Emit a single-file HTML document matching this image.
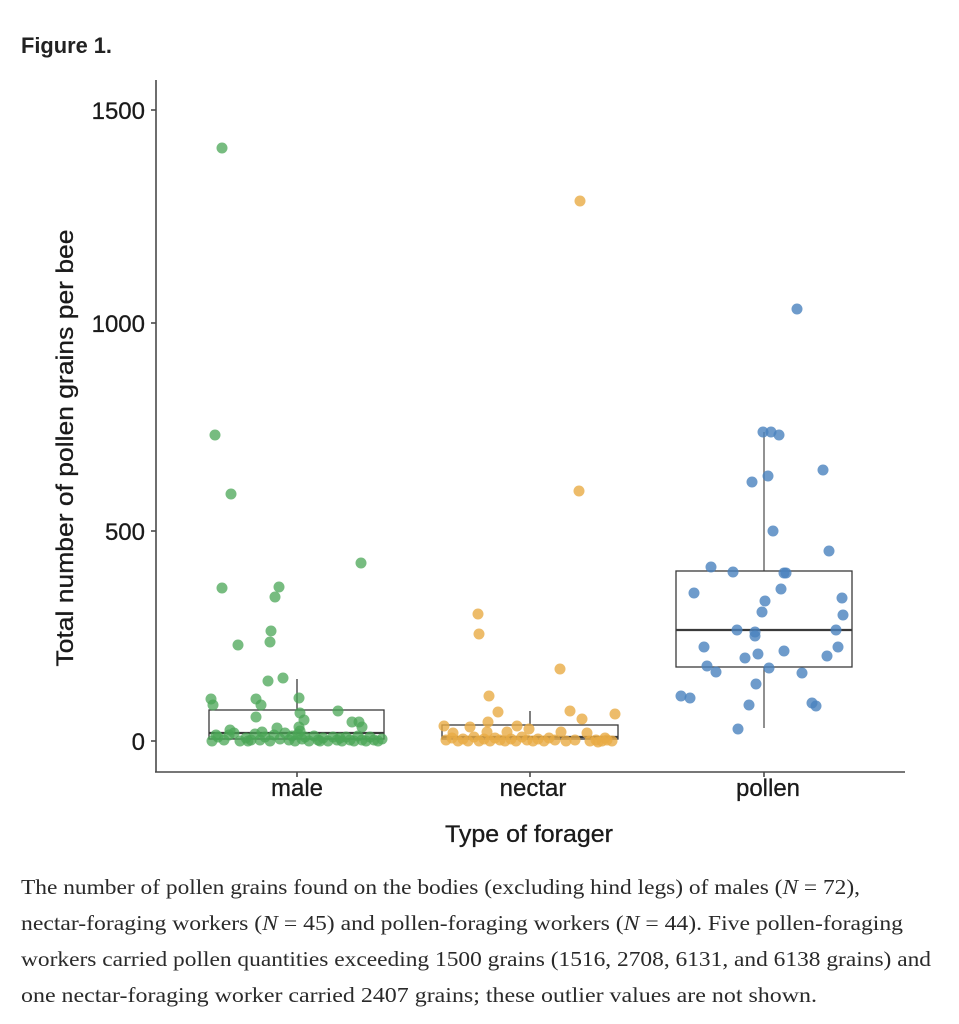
<!DOCTYPE html>
<html>
<head>
<meta charset="utf-8">
<style>
html,body{margin:0;padding:0;background:#fff;}
svg{display:block;}
</style>
</head>
<body>
<svg width="959" height="1024" viewBox="0 0 959 1024" xmlns="http://www.w3.org/2000/svg">
<rect width="959" height="1024" fill="#fff"/>
<text x="21" y="53" font-family="Liberation Sans, sans-serif" font-weight="bold" font-size="22" fill="#222" textLength="91" lengthAdjust="spacingAndGlyphs">Figure 1.</text>

<!-- boxes -->
<g stroke="#3a3a3a" stroke-width="1.3" fill="none">
  <line x1="297" y1="679" x2="297" y2="710"/>
  <rect x="209" y="710" width="175" height="29"/>
  <line x1="209" y1="733" x2="384" y2="733" stroke-width="2.2"/>
  <line x1="530" y1="711" x2="530" y2="725"/>
  <rect x="442" y="725" width="176" height="14"/>
  <line x1="442" y1="737" x2="618" y2="737" stroke-width="2.2"/>
  <line x1="764" y1="432" x2="764" y2="571" stroke="#777" stroke-width="1.6"/>
  <line x1="764" y1="667" x2="764" y2="728" stroke="#555"/>
  <rect x="676" y="571" width="176" height="96"/>
  <line x1="676" y1="630" x2="852" y2="630" stroke-width="2.2"/>
</g>

<!-- male points -->
<g fill="#4aa556" fill-opacity="0.75">
<circle cx="222" cy="148" r="5.5"/><circle cx="215" cy="435" r="5.5"/><circle cx="231" cy="494" r="5.5"/>
<circle cx="361" cy="563" r="5.5"/><circle cx="222" cy="588" r="5.5"/><circle cx="279" cy="587" r="5.5"/>
<circle cx="275" cy="597" r="5.5"/><circle cx="271" cy="631" r="5.5"/><circle cx="270" cy="642" r="5.5"/>
<circle cx="238" cy="645" r="5.5"/><circle cx="268" cy="681" r="5.5"/><circle cx="283" cy="678" r="5.5"/>
<circle cx="211" cy="699" r="5.5"/><circle cx="213" cy="705" r="5.5"/><circle cx="256" cy="699" r="5.5"/>
<circle cx="261" cy="705" r="5.5"/><circle cx="299" cy="698" r="5.5"/><circle cx="300" cy="713" r="5.5"/>
<circle cx="256" cy="717" r="5.5"/><circle cx="338" cy="711" r="5.5"/><circle cx="304" cy="720" r="5.5"/>
<circle cx="299" cy="727" r="5.5"/><circle cx="352" cy="722" r="5.5"/><circle cx="359" cy="722" r="5.5"/>
<circle cx="362" cy="727" r="5.5"/><circle cx="230" cy="730" r="5.5"/><circle cx="277" cy="728" r="5.5"/>
<circle cx="212" cy="741" r="5.5"/><circle cx="218" cy="737" r="5.5"/><circle cx="224" cy="740" r="5.5"/>
<circle cx="229" cy="735" r="5.5"/><circle cx="234" cy="733" r="5.5"/><circle cx="240" cy="741" r="5.5"/>
<circle cx="246" cy="738" r="5.5"/><circle cx="251" cy="740" r="5.5"/><circle cx="255" cy="734" r="5.5"/>
<circle cx="260" cy="740" r="5.5"/><circle cx="265" cy="737" r="5.5"/><circle cx="270" cy="741" r="5.5"/>
<circle cx="274" cy="735" r="5.5"/><circle cx="280" cy="739" r="5.5"/><circle cx="285" cy="733" r="5.5"/>
<circle cx="289" cy="740" r="5.5"/><circle cx="292" cy="736" r="5.5"/><circle cx="295" cy="741" r="5.5"/>
<circle cx="298" cy="734" r="5.5"/><circle cx="302" cy="739" r="5.5"/><circle cx="305" cy="737" r="5.5"/>
<circle cx="309" cy="741" r="5.5"/><circle cx="314" cy="736" r="5.5"/><circle cx="318" cy="740" r="5.5"/>
<circle cx="323" cy="738" r="5.5"/><circle cx="328" cy="741" r="5.5"/><circle cx="333" cy="737" r="5.5"/>
<circle cx="337" cy="740" r="5.5"/><circle cx="342" cy="741" r="5.5"/><circle cx="346" cy="737" r="5.5"/>
<circle cx="350" cy="740" r="5.5"/><circle cx="354" cy="741" r="5.5"/><circle cx="358" cy="736" r="5.5"/>
<circle cx="362" cy="740" r="5.5"/><circle cx="366" cy="741" r="5.5"/><circle cx="370" cy="737" r="5.5"/>
<circle cx="374" cy="740" r="5.5"/><circle cx="378" cy="741" r="5.5"/><circle cx="382" cy="739" r="5.5"/>
<circle cx="216" cy="735" r="5.5"/><circle cx="262" cy="732" r="5.5"/><circle cx="300" cy="731" r="5.5"/>
<circle cx="320" cy="741" r="5.5"/><circle cx="340" cy="738" r="5.5"/><circle cx="248" cy="741" r="5.5"/>
</g>

<!-- nectar points -->
<g fill="#e8ab45" fill-opacity="0.8">
<circle cx="580" cy="201" r="5.5"/><circle cx="579" cy="491" r="5.5"/><circle cx="478" cy="614" r="5.5"/>
<circle cx="479" cy="634" r="5.5"/><circle cx="560" cy="669" r="5.5"/><circle cx="489" cy="696" r="5.5"/>
<circle cx="498" cy="712" r="5.5"/><circle cx="570" cy="711" r="5.5"/><circle cx="582" cy="719" r="5.5"/>
<circle cx="615" cy="714" r="5.5"/><circle cx="488" cy="722" r="5.5"/><circle cx="444" cy="726" r="5.5"/>
<circle cx="470" cy="727" r="5.5"/><circle cx="517" cy="726" r="5.5"/><circle cx="529" cy="729" r="5.5"/>
<circle cx="453" cy="733" r="5.5"/><circle cx="561" cy="732" r="5.5"/><circle cx="587" cy="733" r="5.5"/>
<circle cx="507" cy="732" r="5.5"/><circle cx="487" cy="732" r="5.5"/>
<circle cx="446" cy="740" r="5.5"/><circle cx="452" cy="738" r="5.5"/><circle cx="458" cy="741" r="5.5"/>
<circle cx="463" cy="739" r="5.5"/><circle cx="468" cy="741" r="5.5"/><circle cx="474" cy="737" r="5.5"/>
<circle cx="479" cy="741" r="5.5"/><circle cx="484" cy="739" r="5.5"/><circle cx="490" cy="741" r="5.5"/>
<circle cx="495" cy="738" r="5.5"/><circle cx="500" cy="740" r="5.5"/><circle cx="505" cy="741" r="5.5"/>
<circle cx="511" cy="739" r="5.5"/><circle cx="516" cy="741" r="5.5"/><circle cx="522" cy="737" r="5.5"/>
<circle cx="527" cy="740" r="5.5"/><circle cx="533" cy="741" r="5.5"/><circle cx="538" cy="739" r="5.5"/>
<circle cx="544" cy="741" r="5.5"/><circle cx="549" cy="738" r="5.5"/><circle cx="555" cy="740" r="5.5"/>
<circle cx="566" cy="741" r="5.5"/><circle cx="575" cy="740" r="5.5"/><circle cx="590" cy="741" r="5.5"/>
<circle cx="596" cy="740" r="5.5"/><circle cx="602" cy="741" r="5.5"/><circle cx="607" cy="740" r="5.5"/>
<circle cx="612" cy="741" r="5.5"/><circle cx="598" cy="742" r="5.5"/><circle cx="605" cy="738" r="5.5"/>
</g>

<!-- pollen points -->
<g fill="#4a82be" fill-opacity="0.8">
<circle cx="797" cy="309" r="5.5"/><circle cx="763" cy="432" r="5.5"/><circle cx="771" cy="432" r="5.5"/>
<circle cx="779" cy="435" r="5.5"/><circle cx="823" cy="470" r="5.5"/><circle cx="768" cy="476" r="5.5"/>
<circle cx="752" cy="482" r="5.5"/><circle cx="773" cy="531" r="5.5"/><circle cx="829" cy="551" r="5.5"/>
<circle cx="711" cy="567" r="5.5"/><circle cx="733" cy="572" r="5.5"/><circle cx="784" cy="573" r="5.5"/>
<circle cx="786" cy="573" r="5.5"/><circle cx="694" cy="593" r="5.5"/><circle cx="781" cy="589" r="5.5"/>
<circle cx="765" cy="601" r="5.5"/><circle cx="762" cy="612" r="5.5"/><circle cx="842" cy="598" r="5.5"/>
<circle cx="843" cy="615" r="5.5"/><circle cx="737" cy="630" r="5.5"/><circle cx="755" cy="632" r="5.5"/>
<circle cx="755" cy="636" r="5.5"/><circle cx="836" cy="630" r="5.5"/><circle cx="704" cy="647" r="5.5"/>
<circle cx="758" cy="654" r="5.5"/><circle cx="784" cy="651" r="5.5"/><circle cx="745" cy="658" r="5.5"/>
<circle cx="838" cy="647" r="5.5"/><circle cx="827" cy="656" r="5.5"/><circle cx="707" cy="666" r="5.5"/>
<circle cx="716" cy="672" r="5.5"/><circle cx="769" cy="668" r="5.5"/><circle cx="802" cy="673" r="5.5"/>
<circle cx="756" cy="684" r="5.5"/><circle cx="681" cy="696" r="5.5"/><circle cx="690" cy="698" r="5.5"/>
<circle cx="749" cy="705" r="5.5"/><circle cx="812" cy="703" r="5.5"/><circle cx="816" cy="706" r="5.5"/>
<circle cx="738" cy="729" r="5.5"/>
</g>

<!-- axes -->
<g stroke="#4a4a4a" stroke-width="1.6" fill="none">
  <line x1="156" y1="80" x2="156" y2="772"/>
  <line x1="155" y1="772" x2="905" y2="772"/>
  <line x1="151" y1="110" x2="156" y2="110"/>
  <line x1="151" y1="323" x2="156" y2="323"/>
  <line x1="151" y1="531" x2="156" y2="531"/>
  <line x1="151" y1="741" x2="156" y2="741"/>
  <line x1="297" y1="772" x2="297" y2="777"/>
  <line x1="530" y1="772" x2="530" y2="777"/>
  <line x1="764" y1="772" x2="764" y2="777"/>
</g>

<g font-family="Liberation Sans, sans-serif" fill="#1a1a1a" font-size="24" stroke="#1a1a1a" stroke-width="0.3">
  <text x="145" y="119" text-anchor="end">1500</text>
  <text x="145" y="332" text-anchor="end">1000</text>
  <text x="145" y="540" text-anchor="end">500</text>
  <text x="145" y="750" text-anchor="end">0</text>
  <text x="297" y="796" text-anchor="middle">male</text>
  <text x="533" y="796" text-anchor="middle">nectar</text>
  <text x="768" y="796" text-anchor="middle">pollen</text>
  <text x="529" y="842" text-anchor="middle" textLength="168" lengthAdjust="spacingAndGlyphs">Type of forager</text>
  <text transform="translate(73,448) rotate(-90)" text-anchor="middle" textLength="437" lengthAdjust="spacingAndGlyphs">Total number of pollen grains per bee</text>
</g>

<!-- caption -->
<g font-family="Liberation Serif, serif" font-size="21" fill="#2a2a2a">
  <text x="21" y="894" textLength="839" lengthAdjust="spacingAndGlyphs">The number of pollen grains found on the bodies (excluding hind legs) of males (<tspan font-style="italic">N</tspan> = 72),</text>
  <text x="21" y="930" textLength="882" lengthAdjust="spacingAndGlyphs">nectar-foraging workers (<tspan font-style="italic">N</tspan> = 45) and pollen-foraging workers (<tspan font-style="italic">N</tspan> = 44). Five pollen-foraging</text>
  <text x="21" y="966" textLength="910" lengthAdjust="spacingAndGlyphs">workers carried pollen quantities exceeding 1500 grains (1516, 2708, 6131, and 6138 grains) and</text>
  <text x="21" y="1002" textLength="796" lengthAdjust="spacingAndGlyphs">one nectar-foraging worker carried 2407 grains; these outlier values are not shown.</text>
</g>
</svg>
</body>
</html>
